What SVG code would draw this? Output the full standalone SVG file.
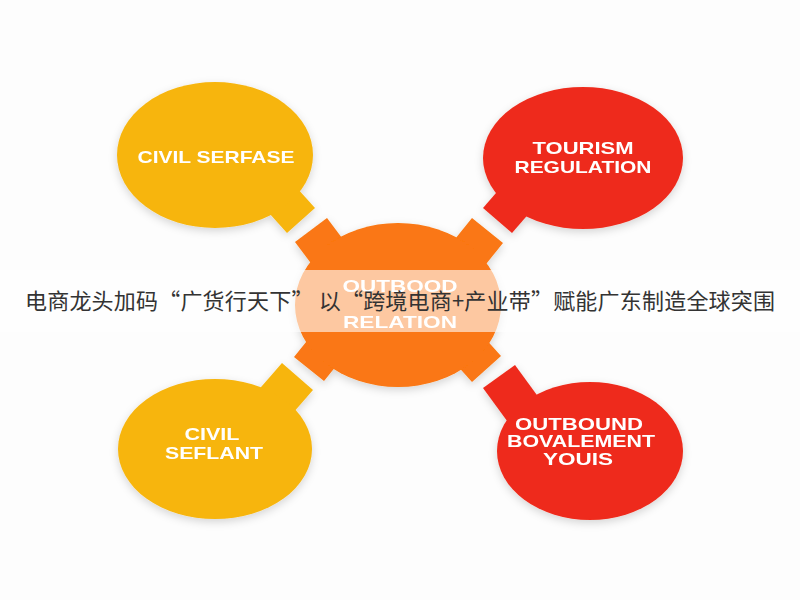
<svg xmlns="http://www.w3.org/2000/svg" width="800" height="600" viewBox="0 0 800 600">
  <defs>
    <filter id="sh" x="-20%" y="-20%" width="140%" height="140%">
      <feDropShadow dx="0" dy="3" stdDeviation="4" flood-color="#000" flood-opacity="0.16"/>
    </filter>
    <style>
      .yellow { fill: #F7B50E; }
      .red { fill: #EE2B1B; }
      .orange { fill: #FA7712; }
      .lbl { font-family: "Liberation Sans", Arial, sans-serif; font-weight: bold; font-size: 17px; fill: #FFFFFF; text-anchor: middle; }
      .title { font-family: "Noto Sans CJK SC", "Noto Sans", sans-serif; font-size: 22px; fill: #333333; }
    </style>
  </defs>
  <rect x="0" y="0" width="800" height="600" fill="#FDFDFD"/>

  <g id="shapes" filter="url(#sh)">
    <g id="connectors">
      <polygon class="yellow" points="315,208 287,233 260,203 288,178"/>
      <polygon class="red" points="483,208 512,233 538,203 509,178"/>
      <polygon class="yellow" points="282,363 313,390 286,421 255,394"/>
      <polygon class="red" points="483,388 515,365 542,402 510,425"/>
    </g>

    <g id="node-civil-serfase">
      <ellipse class="yellow" cx="215" cy="155" rx="98" ry="73"/>
      <text class="lbl" x="216" y="163" textLength="157" lengthAdjust="spacingAndGlyphs">CIVIL SERFASE</text>
    </g>

    <g id="node-tourism-regulation">
      <ellipse class="red" cx="583" cy="158" rx="100" ry="71"/>
      <text class="lbl" x="583" y="154" font-size="16" textLength="101" lengthAdjust="spacingAndGlyphs">TOURISM</text>
      <text class="lbl" x="583" y="173" font-size="16" textLength="137" lengthAdjust="spacingAndGlyphs">REGULATION</text>
    </g>

    <g id="node-civil-seflant">
      <ellipse class="yellow" cx="215" cy="449" rx="97" ry="70"/>
      <text class="lbl" x="212" y="440" font-size="16" textLength="55" lengthAdjust="spacingAndGlyphs">CIVIL</text>
      <text class="lbl" x="214" y="459" font-size="16" textLength="98" lengthAdjust="spacingAndGlyphs">SEFLANT</text>
    </g>

    <g id="node-outbound-bovalement">
      <ellipse class="red" cx="590" cy="451" rx="93" ry="69"/>
      <text class="lbl" x="579" y="430" font-size="14" textLength="128" lengthAdjust="spacingAndGlyphs">OUTBOUND</text>
      <text class="lbl" x="581" y="447" font-size="14" textLength="148" lengthAdjust="spacingAndGlyphs">BOVALEMENT</text>
      <text class="lbl" x="578" y="465" font-size="14" textLength="70" lengthAdjust="spacingAndGlyphs">YOUIS</text>
    </g>

    <g id="node-center">
      <polygon class="orange" points="327,218 295,242 319,274 351,250"/>
      <polygon class="orange" points="472,218 503,243 478,274 447,249"/>
      <polygon class="orange" points="294,357 324,381 349,350 319,326"/>
      <polygon class="orange" points="472,382 501,356 474,326 445,352"/>
      <ellipse class="orange" cx="398" cy="305" rx="103" ry="82"/>
      <text class="lbl" x="400" y="292" font-size="18" textLength="115" lengthAdjust="spacingAndGlyphs">OUTBOOD</text>
      <text class="lbl" x="400" y="328" font-size="18" textLength="114" lengthAdjust="spacingAndGlyphs">RELATION</text>
    </g>
  </g>

  <g id="banner">
    <rect x="0" y="270" width="800" height="62" fill="#FFFFFF" fill-opacity="0.6"/>
    <text class="title" x="25" y="309" textLength="750" lengthAdjust="spacing">电商龙头加码“广货行天下” 以“跨境电商+产业带”赋能广东制造全球突围</text>
  </g>
</svg>
